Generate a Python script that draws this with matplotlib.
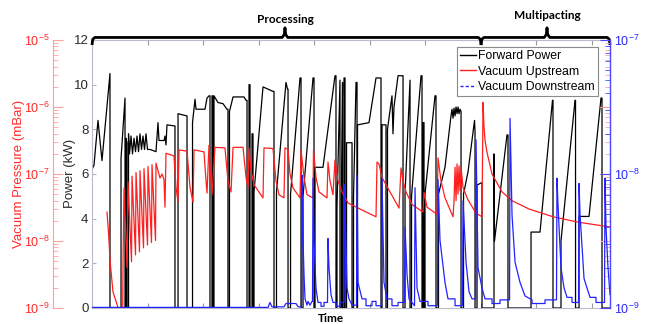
import matplotlib
matplotlib.use("Agg")
import matplotlib.pyplot as plt
import matplotlib.transforms as mtransforms
from matplotlib.lines import Line2D
from matplotlib.ticker import NullFormatter

plt.rcParams['font.family'] = ['Liberation Sans', 'DejaVu Sans']
plt.rcParams['mathtext.default'] = 'regular'

# ---------------- data (time in hours) ----------------
fwd_time = [
    0.000, 0.036, 0.108, 0.180, 0.324, 0.324, 0.523, 0.523, 0.595, 0.595,
    0.613, 0.613, 0.631, 0.631, 0.658, 0.658, 0.676, 0.703, 0.730, 0.757,
    0.784, 0.811, 0.838, 0.865, 0.892, 0.919, 0.946, 0.973, 1.000, 1.045,
    1.153, 1.189, 1.207, 1.297, 1.315, 1.333, 1.351, 1.495, 1.495, 1.550,
    1.550, 1.712, 1.712, 1.811, 1.811, 1.856, 1.874, 2.036, 2.072, 2.108,
    2.126, 2.126, 2.162, 2.162, 2.180, 2.180, 2.198, 2.198, 2.270, 2.360,
    2.432, 2.450, 2.450, 2.477, 2.477, 2.541, 2.739, 2.775, 2.793, 2.793,
    2.829, 2.829, 2.847, 2.847, 2.883, 2.883, 2.901, 2.901, 2.919, 2.919,
    3.081, 3.261, 3.279, 3.279, 3.324, 3.324, 3.495, 3.523, 3.532, 3.532,
    3.577, 3.577, 3.748, 3.766, 3.766, 3.802, 3.802, 3.982, 4.000, 4.000,
    4.018, 4.018, 4.162, 4.378, 4.396, 4.396, 4.414, 4.414, 4.468, 4.468,
    4.495, 4.495, 4.514, 4.514, 4.541, 4.541, 4.559, 4.559, 4.586, 4.586,
    4.685, 4.685, 4.712, 4.712, 4.757, 4.775, 4.775, 4.784, 4.784, 4.991,
    5.117, 5.207, 5.207, 5.225, 5.225, 5.297, 5.297, 5.324, 5.324, 5.405,
    5.423, 5.441, 5.514, 5.604, 5.604, 5.640, 5.640, 5.730, 5.730, 5.757,
    5.757, 5.928, 5.946, 5.946, 5.964, 5.964, 5.982, 5.982, 6.000, 6.000,
    6.180, 6.198, 6.198, 6.243, 6.243, 6.342, 6.360, 6.468, 6.486, 6.505,
    6.523, 6.541, 6.559, 6.577, 6.595, 6.613, 6.631, 6.649, 6.649, 6.694,
    6.694, 6.775, 6.892, 6.901, 6.901, 6.937, 6.937, 7.009, 7.027, 7.027,
    7.243, 7.243, 7.252, 7.477, 7.495, 7.495, 7.910, 7.910, 8.072, 8.297,
    8.306, 8.306, 8.450, 8.450, 8.703, 8.712, 8.712, 8.775, 8.775, 8.955,
    9.171, 9.189, 9.189, 9.333,
]
fwd_kw = [
    6.2, 6.4, 8.4, 6.6, 10.5, 0, 0, 6.7, 9.4, 0,
    0, 7.6, 7.4, 0, 0, 7.8, 6.9, 7.7, 6.9, 7.6,
    7.0, 7.7, 7.0, 7.8, 7.1, 7.7, 7.1, 7.8, 7.1, 7.1,
    7.0, 8.3, 7.5, 7.5, 7.7, 7.3, 8.2, 8.15, 0, 0,
    8.7, 8.6, 0, 0, 8.3, 9.35, 8.9, 8.9, 9.4, 9.5,
    9.5, 0, 0, 9.5, 9.5, 0, 0, 9.5, 9.2, 9.15,
    8.9, 8.9, 0, 0, 8.8, 9.45, 9.45, 9.3, 9.3, 0,
    0, 10.0, 10.0, 0, 0, 7.8, 7.8, 0, 0, 5.2,
    9.9, 9.7, 9.7, 0, 0, 5.2, 10.1, 9.8, 9.8, 0,
    0, 5.1, 10.3, 10.3, 0, 0, 5.0, 10.3, 10.3, 0,
    0, 6.3, 6.3, 10.4, 10.4, 0, 0, 4.5, 10.2, 0,
    0, 5.0, 10.1, 0, 0, 10.3, 10.3, 0, 0, 7.4,
    7.4, 0, 0, 5.0, 10.1, 10.1, 0, 0, 8.2, 8.3,
    10.3, 10.3, 0, 0, 8.2, 8.2, 0, 0, 8.0, 9.5,
    7.8, 9.0, 10.4, 10.4, 0, 0, 5.1, 10.2, 0, 0,
    5.0, 10.4, 10.4, 0, 0, 8.3, 8.3, 0, 0, 5.1,
    9.5, 9.5, 0, 0, 5.1, 6.1, 6.3, 8.6, 8.9, 8.5,
    8.95, 8.6, 9.0, 8.7, 9.0, 8.7, 8.9, 8.8, 0, 0,
    5.1, 6.1, 8.4, 7.9, 0, 0, 5.5, 5.6, 5.6, 0,
    0, 6.9, 3.0, 7.75, 7.75, 0, 0, 3.4, 3.4, 9.3,
    9.3, 0, 0, 3.0, 9.3, 9.3, 0, 0, 4.1, 4.1,
    9.4, 9.4, 0, 0,
]

up_time = [
    0.270, 0.288, 0.306, 0.324, 0.378, 0.468, 0.486, 0.550, 0.559, 0.577,
    0.631, 0.649, 0.712, 0.721, 0.784, 0.793, 0.856, 0.865, 0.928, 0.937,
    1.000, 1.009, 1.072, 1.081, 1.144, 1.153, 1.225, 1.261, 1.297, 1.315,
    1.333, 1.477, 1.514, 1.550, 1.568, 1.712, 1.766, 1.820, 1.838, 2.018,
    2.054, 2.072, 2.108, 2.126, 2.162, 2.216, 2.396, 2.450, 2.505, 2.541,
    2.721, 2.775, 2.811, 2.829, 2.865, 2.919, 3.081, 3.099, 3.261, 3.315,
    3.369, 3.459, 3.477, 3.532, 3.568, 3.622, 3.748, 3.766, 3.820, 3.874,
    3.982, 3.991, 4.036, 4.090, 4.234, 4.252, 4.288, 4.342, 4.378, 4.432,
    4.505, 4.613, 4.829, 5.117, 5.135, 5.171, 5.225, 5.297, 5.532, 5.568,
    5.604, 5.658, 5.766, 5.964, 5.982, 6.036, 6.216, 6.234, 6.288, 6.360,
    6.505, 6.523, 6.541, 6.559, 6.577, 6.595, 6.613, 6.631, 6.649, 6.685,
    6.775, 6.919, 7.027, 7.045, 7.063, 7.081, 7.117, 7.207, 7.387, 7.568,
    7.874, 8.306, 8.775, 9.333,
]
up_mbar = [
    2.7e-8, 1.74e-8, 1.02e-8, 5.2e-9, 1.74e-9, 1.02e-9, 3.2e-10, 3.2e-10, 5.0e-9, 6.2e-8,
    4.0e-9, 7.6e-8, 4.9e-9, 9.3e-8, 6.2e-9, 1.05e-7, 6.9e-9, 1.12e-7, 7.9e-9, 1.2e-7,
    8.7e-9, 1.29e-7, 9.5e-9, 1.38e-7, 1.02e-8, 1.45e-7, 8.7e-8, 1.0e-7, 8.3e-8, 3.2e-8,
    2.04e-7, 1.86e-7, 6.3e-8, 3.8e-8, 2.29e-7, 2.19e-7, 6.3e-8, 3.8e-8, 2.29e-7, 2.14e-7,
    7.9e-8, 5.2e-8, 2.69e-7, 1.26e-7, 4.9e-8, 2.5e-7, 2.45e-7, 7.9e-8, 5.4e-8, 2.5e-7,
    2.5e-7, 8.9e-8, 6.2e-8, 2.45e-7, 1.12e-7, 6.9e-8, 4.4e-8, 2.45e-7, 2.4e-7, 7.9e-8,
    4.9e-8, 4.4e-8, 2.45e-7, 2.34e-7, 1.0e-7, 6.2e-8, 4.4e-8, 2.29e-7, 8.9e-8, 4.9e-8,
    4.4e-8, 2.29e-7, 8.9e-8, 5.4e-8, 4.4e-8, 1.51e-7, 7.9e-8, 4.9e-8, 1.62e-7, 7.9e-8,
    5.4e-8, 3.7e-8, 3.0e-8, 2.3e-8, 1.51e-7, 1.41e-7, 8.9e-8, 6.9e-8, 3.1e-8, 1.23e-7,
    7.9e-8, 5.4e-8, 3.5e-8, 2.7e-8, 5.4e-8, 3.2e-8, 2.5e-8, 1.74e-7, 7.9e-8, 4.4e-8,
    2.3e-8, 4.0e-8, 1.26e-7, 4.0e-8, 1.41e-7, 5.0e-8, 1.32e-7, 5.6e-8, 1.26e-7, 6.3e-8,
    4.1e-8, 2.6e-8, 2.3e-8, 1.17e-6, 5.0e-7, 3.2e-7, 2.1e-7, 1.0e-7, 5.4e-8, 4.0e-8,
    3.0e-8, 2.3e-8, 1.9e-8, 1.62e-8,
]

down_time = [
    0.000, 3.171, 3.207, 3.243, 3.459, 3.495, 3.676, 3.712, 3.775, 3.784,
    3.802, 3.820, 3.838, 3.874, 3.892, 3.928, 3.964, 3.973, 3.982, 4.000,
    4.036, 4.072, 4.126, 4.126, 4.180, 4.180, 4.243, 4.252, 4.270, 4.306,
    4.342, 4.396, 4.396, 4.468, 4.468, 4.541, 4.550, 4.595, 4.631, 4.685,
    4.766, 4.775, 4.793, 4.865, 4.937, 4.937, 5.045, 5.045, 5.117, 5.117,
    5.216, 5.225, 5.261, 5.315, 5.405, 5.405, 5.514, 5.514, 5.631, 5.640,
    5.676, 5.712, 5.811, 5.820, 5.856, 5.910, 6.054, 6.054, 6.225, 6.234,
    6.270, 6.360, 6.414, 6.541, 6.541, 6.676, 6.685, 6.739, 6.793, 6.847,
    6.910, 6.919, 6.955, 7.027, 7.081, 7.207, 7.207, 7.351, 7.351, 7.523,
    7.532, 7.568, 7.622, 7.712, 7.802, 7.928, 7.928, 8.162, 8.162, 8.369,
    8.378, 8.396, 8.450, 8.505, 8.559, 8.649, 8.649, 8.766, 8.775, 8.793,
    8.865, 8.919, 8.973, 9.081, 9.081, 9.234, 9.243, 9.261, 9.297, 9.333,
]
down_mbar = [
    1.01e-9, 1.01e-9, 1.1e-9, 1.02e-9, 1.02e-9, 1.08e-9, 1.08e-9, 1.02e-9, 1.02e-9, 9.8e-9,
    3.2e-9, 1.78e-9, 1.17e-9, 1.05e-9, 1.12e-9, 1.05e-9, 1.12e-9, 1.12e-9, 9.3e-9, 3.2e-9,
    1.41e-9, 1.1e-9, 1.1e-9, 1.03e-9, 1.03e-9, 1.1e-9, 1.1e-9, 3.3e-9, 2.0e-9, 1.26e-9,
    1.1e-9, 1.1e-9, 1.03e-9, 1.03e-9, 1.1e-9, 1.1e-9, 8.3e-9, 1.41e-9, 1.17e-9, 1.05e-9,
    1.05e-9, 9.8e-9, 1.55e-9, 1.17e-9, 1.17e-9, 1.04e-9, 1.04e-9, 1.12e-9, 1.12e-9, 1.04e-9,
    1.04e-9, 9.3e-9, 1.55e-9, 1.17e-9, 1.17e-9, 1.04e-9, 1.04e-9, 1.1e-9, 1.1e-9, 4.0e-9,
    1.78e-9, 1.17e-9, 1.04e-9, 7.9e-9, 1.41e-9, 1.12e-9, 1.12e-9, 1.04e-9, 1.04e-9, 9.1e-9,
    3.2e-9, 1.55e-9, 1.17e-9, 1.17e-9, 1.04e-9, 1.04e-9, 6.3e-9, 2.2e-9, 1.32e-9, 1.17e-9,
    1.17e-9, 1.8e-8, 2.0e-9, 1.41e-9, 1.17e-9, 1.17e-9, 1.08e-9, 1.08e-9, 1.15e-9, 1.15e-9,
    2.6e-8, 4.9e-9, 2.2e-9, 1.55e-9, 1.23e-9, 1.15e-9, 1.08e-9, 1.08e-9, 1.15e-9, 1.15e-9,
    9.3e-9, 5.9e-9, 2.0e-9, 1.41e-9, 1.2e-9, 1.2e-9, 1.1e-9, 1.1e-9, 8.5e-9, 5.0e-9,
    1.66e-9, 1.41e-9, 1.2e-9, 1.2e-9, 1.1e-9, 1.1e-9, 9.3e-9, 4.0e-9, 2.0e-9, 1.26e-9,
]

power_ticks = [0, 2, 4, 6, 8, 10, 12]
time_ticks = [0, 1, 2, 3, 4, 5, 6, 7, 8, 9]
time_end = 9.333
up_decades = [1e-9, 1e-8, 1e-7, 1e-6, 1e-5]
down_decades = [1e-9, 1e-8, 1e-7]
minor_subs = [2, 3, 4, 5, 6, 7, 8, 9]
phase_names = ["Processing", "Multipacting"]
phase_start = [0.0, 7.01]
phase_end = [7.01, 9.333]
phase_peak = [3.477, 8.198]
series_labels = ["Forward Power", "Vacuum Upstream", "Vacuum Downstream"]

assert len(fwd_time) == len(fwd_kw)
assert len(up_time) == len(up_mbar)
assert len(down_time) == len(down_mbar)


def minor_list(decades):
    return [d * s for d in decades[:-1] for s in minor_subs]


# ---------------- figure ----------------
W, H = 647, 324
fig = plt.figure(figsize=(W / 100, H / 100), dpi=100)
ax = fig.add_axes([92 / W, 1 - 308 / H, (610 - 92) / W, (308 - 40) / H])

c_black = 'black'
c_red = '#ff1f1f'
c_blue = '#2222ff'

ax.plot(fwd_time, fwd_kw, color=c_black, lw=0.9)
ax.set_xlim(0, time_end)
ax.set_ylim(0, 12)
ax.set_yticks(power_ticks)
ax.set_xticks(time_ticks)
ax.tick_params(axis='x', which='both', direction='in', top=True, bottom=True,
               labelbottom=False, length=3.5, color='#999999', width=0.8)
ax.tick_params(axis='y', direction='in', left=True, right=False, length=3,
               color='#aab4c8', labelsize=9.5, labelcolor='#2a2a2a', pad=2.5)
for s in ax.spines.values():
    s.set_color('#b8bcc8')
    s.set_linewidth(0.8)

# upstream vacuum (red, offset left axis)
ax_up = ax.twinx()
ax_up.plot(up_time, up_mbar, color=c_red, lw=0.9)
ax_up.set_yscale('log')
ax_up.set_ylim(1e-9, 1e-5)
ax_up.set_xlim(0, time_end)
ax_up.set_yticks(up_decades)
ax_up.set_yticks(minor_list(up_decades), minor=True)
ax_up.yaxis.set_minor_formatter(NullFormatter())
ax_up.yaxis.set_label_position('left')
ax_up.spines['left'].set_position(('outward', 28))
ax_up.spines['left'].set_visible(True)
ax_up.spines['left'].set_color('#ffa0a0')
for k in ('right', 'top', 'bottom'):
    ax_up.spines[k].set_visible(False)
ax_up.tick_params(axis='y', which='both', direction='in', left=True, right=True,
                  labelleft=True, labelright=False, color='#ffa0a0',
                  labelcolor='#ff2a2a', labelsize=9, pad=2.5)
ax_up.tick_params(axis='y', which='major', length=7)
ax_up.tick_params(axis='y', which='minor', length=3.5)

# downstream vacuum (blue, right axis)
ax_dn = ax.twinx()
ax_dn.plot(down_time, down_mbar, color=c_blue, lw=0.9)
ax_dn.set_yscale('log')
ax_dn.set_ylim(1e-9, 1e-7)
ax_dn.set_xlim(0, time_end)
ax_dn.set_yticks(down_decades)
ax_dn.set_yticks(minor_list(down_decades), minor=True)
ax_dn.yaxis.set_minor_formatter(NullFormatter())
for k in ('left', 'top', 'bottom'):
    ax_dn.spines[k].set_visible(False)
ax_dn.spines['right'].set_color('#4a4aff')
ax_dn.spines['right'].set_linewidth(1.0)
ax_dn.tick_params(axis='y', which='both', direction='in', color='#4a4aff',
                  labelcolor='#2a2aff', labelsize=9, pad=3)
ax_dn.tick_params(axis='y', which='major', length=7)
ax_dn.tick_params(axis='y', which='minor', length=3.5)

# legend
handles = [Line2D([], [], color=c_black, lw=1.0),
           Line2D([], [], color=c_red, lw=1.0),
           Line2D([], [], color=c_blue, lw=1.0, ls=(0, (2.2, 1.6)))]
leg = ax_dn.legend(handles, series_labels, loc='upper right',
                   bbox_to_anchor=(598 / W, 1 - 47 / H), bbox_transform=fig.transFigure,
                   fontsize=8.8, frameon=True, fancybox=False, framealpha=1,
                   edgecolor='#8a8a8a', handlelength=1.3, handletextpad=0.15,
                   labelspacing=0.26, borderpad=0.28, borderaxespad=0)
leg.get_frame().set_linewidth(0.8)

# axis labels
fig.text(70 / W, 1 - 173 / H, 'Power (kW)', rotation=90, ha='center', va='center',
         fontsize=9.5, color='#2a2a2a')
fig.text(19.5 / W, 1 - 174 / H, 'Vacuum Pressure (mBar)', rotation=90, ha='center',
         va='center', fontsize=9.5, color='#ff2a2a')
fig.text(331 / W, 1 - 318 / H, 'Time', ha='center', va='center', fontsize=8.5,
         fontweight='bold', family=['Lato', 'DejaVu Sans'])

# phase braces
trans = mtransforms.blended_transform_factory(ax.transData, ax.transAxes)
yb, hb, db, c = 1.0095, 0.036, 0.028, 0.05
for name, t0, t1, tm, ty in zip(phase_names, phase_start, phase_end, phase_peak,
                                [1.075, 1.09]):
    xs = [t0, t0 + c * 0.25, t0 + c, tm - c, tm - c * 0.25, tm,
          tm + c * 0.25, tm + c, t1 - c, t1 - c * 0.25, t1]
    ys = [yb - db, yb - db * 0.25, yb, yb, yb + hb * 0.3, yb + hb,
          yb + hb * 0.3, yb, yb, yb - db * 0.25, yb - db]
    ax.plot(xs, ys, transform=trans, clip_on=False, color='black', lw=2.0,
            solid_joinstyle='round', solid_capstyle='butt', zorder=10)
    ax.text(tm, ty, name, transform=trans, ha='center', va='center', fontsize=8.5,
            fontweight='bold', family=['Lato', 'DejaVu Sans'])

fig.savefig('out.png', dpi=100)
